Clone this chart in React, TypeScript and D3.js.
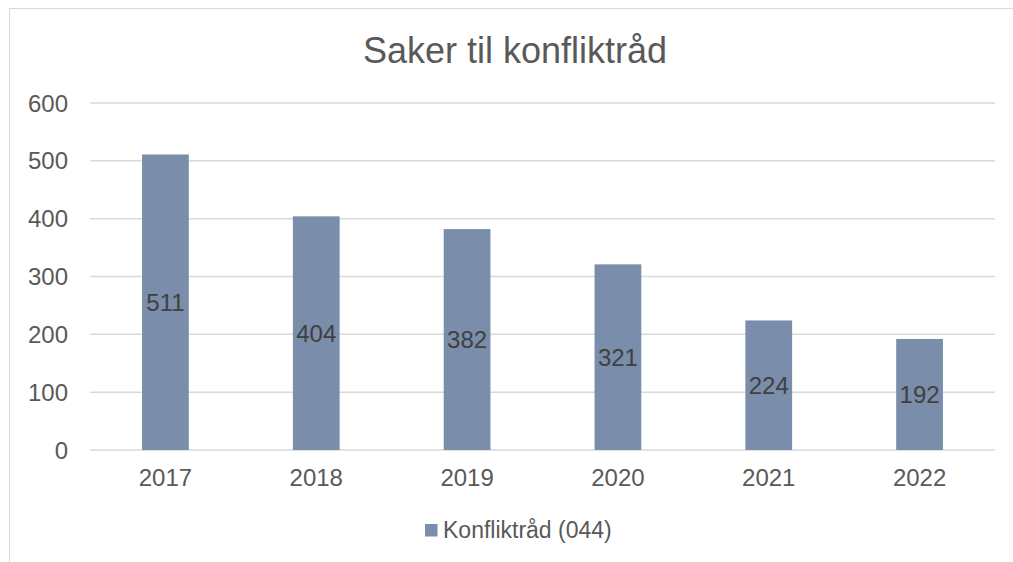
import React from "react";
import * as d3 from "d3";

const categories = ["2017", "2018", "2019", "2020", "2021", "2022"];
const values = [511, 404, 382, 321, 224, 192];
const yTicks = [0, 100, 200, 300, 400, 500, 600];
const title = "Saker til konfliktråd";
const seriesName = "Konfliktråd (044)";

export default function App() {
  const W = 1013, H = 562;
  const left = 90, right = 995, top = 103, bottom = 450;
  const x = d3.scaleBand<string>().domain(categories).range([left, right]).paddingInner(0.69).paddingOuter(0.345);
  const y = d3.scaleLinear().domain([0, 600]).range([bottom, top]);
  const font = "'Liberation Sans', Arial, sans-serif";
  return (
    <svg width={W} height={H} style={{ position: "absolute", left: 0, top: 0 }} fontFamily={font}>
      <rect x={0} y={0} width={W} height={H} fill="#fff" />
      <rect x={9.5} y={8.5} width={W + 10} height={H + 10} fill="#fff" stroke="#d9d9d9" strokeWidth={1} />
      <text x={515} y={63} textAnchor="middle" fontSize={36} fill="#595959">{title}</text>
      {yTicks.map((t) => (
        <g key={t}>
          <line x1={left} x2={right} y1={y(t)} y2={y(t)} stroke="#d9d9d9" strokeWidth={1.5} />
          <text x={68} y={y(t) + 8.5} textAnchor="end" fontSize={24} fill="#595959">{t}</text>
        </g>
      ))}
      {categories.map((c, i) => (
        <g key={c}>
          <rect x={x(c)!} width={x.bandwidth()} y={y(values[i])} height={y(0) - y(values[i])} fill="#7a8daa" />
          <text x={x(c)! + x.bandwidth() / 2} y={y(values[i] / 2) + 8.5} textAnchor="middle" fontSize={24} fill="#404040">{values[i]}</text>
          <text x={x(c)! + x.bandwidth() / 2} y={486} textAnchor="middle" fontSize={24} fill="#595959">{c}</text>
        </g>
      ))}
      <rect x={425} y={524} width={12.5} height={12.5} fill="#7a8daa" />
      <text x={443} y={538} fontSize={23} fill="#595959">{seriesName}</text>
    </svg>
  );
}
